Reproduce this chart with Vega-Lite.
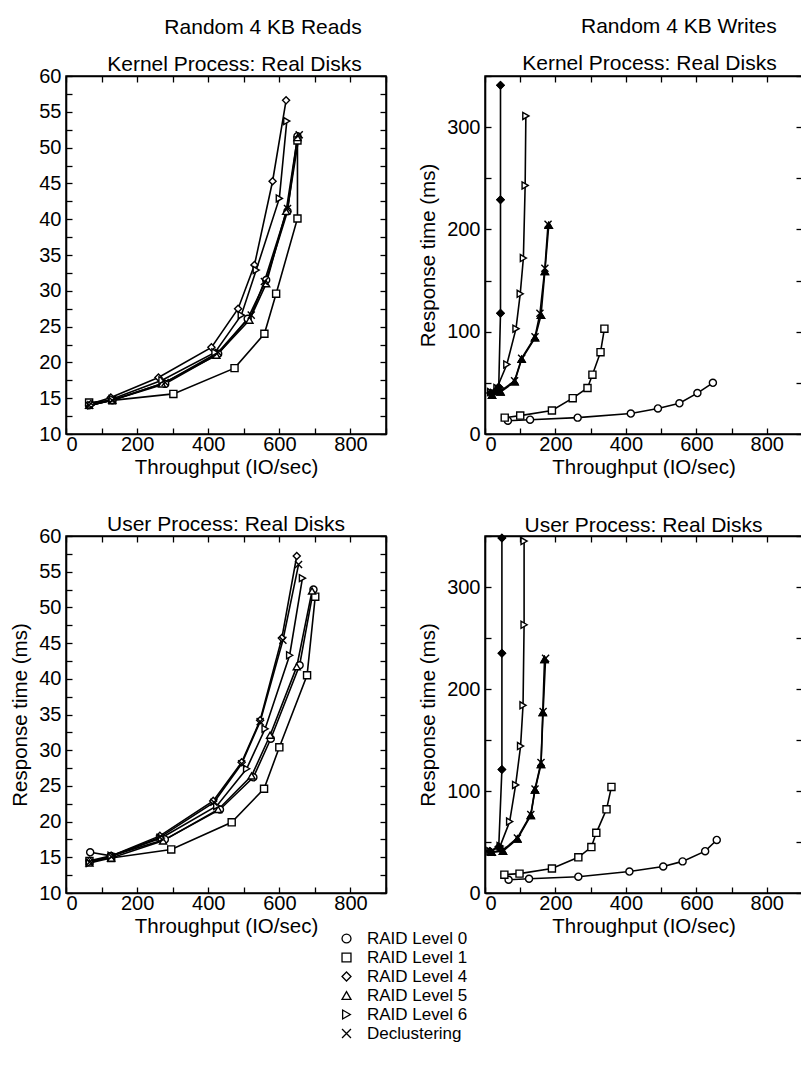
{
  "$schema": "https://vega.github.io/schema/vega-lite/v6.json",
  "padding": {"left": 10, "top": 15, "right": 0, "bottom": 0},
  "background": "white",
  "datasets": {
    "d": [
      {"p":"KR","s":"RAID Level 0","i":1,"x":65,"y":14.0},{"p":"KR","s":"RAID Level 0","i":2,"x":130,"y":14.7},{"p":"KR","s":"RAID Level 0","i":3,"x":279,"y":17.0},{"p":"KR","s":"RAID Level 0","i":4,"x":428,"y":21.2},{"p":"KR","s":"RAID Level 0","i":5,"x":511,"y":26.1},{"p":"KR","s":"RAID Level 0","i":6,"x":563,"y":31.5},{"p":"KR","s":"RAID Level 0","i":7,"x":623,"y":41.1},{"p":"KR","s":"RAID Level 0","i":8,"x":651,"y":51.6},
      {"p":"KR","s":"RAID Level 1","i":1,"x":65,"y":14.4},{"p":"KR","s":"RAID Level 1","i":2,"x":130,"y":14.7},{"p":"KR","s":"RAID Level 1","i":3,"x":302,"y":15.6},{"p":"KR","s":"RAID Level 1","i":4,"x":474,"y":19.2},{"p":"KR","s":"RAID Level 1","i":5,"x":558,"y":24.0},{"p":"KR","s":"RAID Level 1","i":6,"x":591,"y":29.6},{"p":"KR","s":"RAID Level 1","i":7,"x":651,"y":40.1},{"p":"KR","s":"RAID Level 1","i":8,"x":651,"y":51.0},
      {"p":"KR","s":"RAID Level 4","i":1,"x":70,"y":14.2},{"p":"KR","s":"RAID Level 4","i":2,"x":126,"y":15.1},{"p":"KR","s":"RAID Level 4","i":3,"x":260,"y":17.9},{"p":"KR","s":"RAID Level 4","i":4,"x":409,"y":22.1},{"p":"KR","s":"RAID Level 4","i":5,"x":484,"y":27.5},{"p":"KR","s":"RAID Level 4","i":6,"x":530,"y":33.6},{"p":"KR","s":"RAID Level 4","i":7,"x":581,"y":45.3},{"p":"KR","s":"RAID Level 4","i":8,"x":619,"y":56.6},
      {"p":"KR","s":"RAID Level 5","i":1,"x":65,"y":14.0},{"p":"KR","s":"RAID Level 5","i":2,"x":130,"y":14.7},{"p":"KR","s":"RAID Level 5","i":3,"x":270,"y":17.0},{"p":"KR","s":"RAID Level 5","i":4,"x":423,"y":21.0},{"p":"KR","s":"RAID Level 5","i":5,"x":516,"y":25.9},{"p":"KR","s":"RAID Level 5","i":6,"x":563,"y":31.0},{"p":"KR","s":"RAID Level 5","i":7,"x":619,"y":41.1},{"p":"KR","s":"RAID Level 5","i":8,"x":651,"y":51.4},
      {"p":"KR","s":"RAID Level 6","i":1,"x":70,"y":14.0},{"p":"KR","s":"RAID Level 6","i":2,"x":130,"y":14.9},{"p":"KR","s":"RAID Level 6","i":3,"x":270,"y":17.5},{"p":"KR","s":"RAID Level 6","i":4,"x":419,"y":21.4},{"p":"KR","s":"RAID Level 6","i":5,"x":493,"y":26.6},{"p":"KR","s":"RAID Level 6","i":6,"x":535,"y":32.9},{"p":"KR","s":"RAID Level 6","i":7,"x":600,"y":42.9},{"p":"KR","s":"RAID Level 6","i":8,"x":621,"y":53.7},
      {"p":"KR","s":"Declustering","i":1,"x":65,"y":14.0},{"p":"KR","s":"Declustering","i":2,"x":130,"y":14.7},{"p":"KR","s":"Declustering","i":3,"x":279,"y":17.2},{"p":"KR","s":"Declustering","i":4,"x":428,"y":21.4},{"p":"KR","s":"Declustering","i":5,"x":521,"y":26.6},{"p":"KR","s":"Declustering","i":6,"x":558,"y":31.3},{"p":"KR","s":"Declustering","i":7,"x":623,"y":41.5},{"p":"KR","s":"Declustering","i":8,"x":656,"y":51.8},

      {"p":"KW","s":"RAID Level 0","i":1,"x":65,"y":13},{"p":"KW","s":"RAID Level 0","i":2,"x":128,"y":14},{"p":"KW","s":"RAID Level 0","i":3,"x":263,"y":16},{"p":"KW","s":"RAID Level 0","i":4,"x":414,"y":20},{"p":"KW","s":"RAID Level 0","i":5,"x":491,"y":25},{"p":"KW","s":"RAID Level 0","i":6,"x":552,"y":30},{"p":"KW","s":"RAID Level 0","i":7,"x":603,"y":40},{"p":"KW","s":"RAID Level 0","i":8,"x":647,"y":50},
      {"p":"KW","s":"RAID Level 1","i":1,"x":56,"y":16},{"p":"KW","s":"RAID Level 1","i":2,"x":100,"y":18},{"p":"KW","s":"RAID Level 1","i":3,"x":190,"y":23},{"p":"KW","s":"RAID Level 1","i":4,"x":249,"y":35},{"p":"KW","s":"RAID Level 1","i":5,"x":291,"y":45},{"p":"KW","s":"RAID Level 1","i":6,"x":305,"y":58},{"p":"KW","s":"RAID Level 1","i":7,"x":328,"y":80},{"p":"KW","s":"RAID Level 1","i":8,"x":339,"y":103},
      {"p":"KW","s":"RAID Level 4","i":1,"x":16,"y":40},{"p":"KW","s":"RAID Level 4","i":2,"x":30,"y":42},{"p":"KW","s":"RAID Level 4","i":3,"x":39,"y":46},{"p":"KW","s":"RAID Level 4","i":4,"x":44,"y":118},{"p":"KW","s":"RAID Level 4","i":5,"x":44,"y":229},{"p":"KW","s":"RAID Level 4","i":6,"x":44,"y":341},
      {"p":"KW","s":"RAID Level 5","i":1,"x":20,"y":38},{"p":"KW","s":"RAID Level 5","i":2,"x":44,"y":41},{"p":"KW","s":"RAID Level 5","i":3,"x":84,"y":51},{"p":"KW","s":"RAID Level 5","i":4,"x":104,"y":73},{"p":"KW","s":"RAID Level 5","i":5,"x":142,"y":94},{"p":"KW","s":"RAID Level 5","i":6,"x":159,"y":116},{"p":"KW","s":"RAID Level 5","i":7,"x":170,"y":159},{"p":"KW","s":"RAID Level 5","i":8,"x":181,"y":204},
      {"p":"KW","s":"RAID Level 6","i":1,"x":16,"y":41},{"p":"KW","s":"RAID Level 6","i":2,"x":34,"y":45},{"p":"KW","s":"RAID Level 6","i":3,"x":62,"y":68},{"p":"KW","s":"RAID Level 6","i":4,"x":88,"y":103},{"p":"KW","s":"RAID Level 6","i":5,"x":100,"y":137},{"p":"KW","s":"RAID Level 6","i":6,"x":109,"y":172},{"p":"KW","s":"RAID Level 6","i":7,"x":114,"y":243},{"p":"KW","s":"RAID Level 6","i":8,"x":116,"y":311},
      {"p":"KW","s":"Declustering","i":1,"x":20,"y":39},{"p":"KW","s":"Declustering","i":2,"x":44,"y":42},{"p":"KW","s":"Declustering","i":3,"x":84,"y":52},{"p":"KW","s":"Declustering","i":4,"x":104,"y":74},{"p":"KW","s":"Declustering","i":5,"x":142,"y":95},{"p":"KW","s":"Declustering","i":6,"x":156,"y":118},{"p":"KW","s":"Declustering","i":7,"x":170,"y":162},{"p":"KW","s":"Declustering","i":8,"x":179,"y":205},

      {"p":"UR","s":"RAID Level 0","i":1,"x":68,"y":15.7},{"p":"UR","s":"RAID Level 0","i":2,"x":127,"y":15.2},{"p":"UR","s":"RAID Level 0","i":3,"x":278,"y":17.5},{"p":"UR","s":"RAID Level 0","i":4,"x":433,"y":21.7},{"p":"UR","s":"RAID Level 0","i":5,"x":527,"y":26.2},{"p":"UR","s":"RAID Level 0","i":6,"x":576,"y":31.6},{"p":"UR","s":"RAID Level 0","i":7,"x":657,"y":41.9},{"p":"UR","s":"RAID Level 0","i":8,"x":696,"y":52.5},
      {"p":"UR","s":"RAID Level 1","i":1,"x":66,"y":14.5},{"p":"UR","s":"RAID Level 1","i":2,"x":127,"y":14.9},{"p":"UR","s":"RAID Level 1","i":3,"x":296,"y":16.1},{"p":"UR","s":"RAID Level 1","i":4,"x":466,"y":19.9},{"p":"UR","s":"RAID Level 1","i":5,"x":557,"y":24.6},{"p":"UR","s":"RAID Level 1","i":6,"x":600,"y":30.4},{"p":"UR","s":"RAID Level 1","i":7,"x":678,"y":40.5},{"p":"UR","s":"RAID Level 1","i":8,"x":701,"y":51.5},
      {"p":"UR","s":"RAID Level 4","i":1,"x":66,"y":14.5},{"p":"UR","s":"RAID Level 4","i":2,"x":127,"y":15.2},{"p":"UR","s":"RAID Level 4","i":3,"x":264,"y":18.0},{"p":"UR","s":"RAID Level 4","i":4,"x":414,"y":22.9},{"p":"UR","s":"RAID Level 4","i":5,"x":494,"y":28.3},{"p":"UR","s":"RAID Level 4","i":6,"x":546,"y":34.2},{"p":"UR","s":"RAID Level 4","i":7,"x":607,"y":45.7},{"p":"UR","s":"RAID Level 4","i":8,"x":649,"y":57.2},
      {"p":"UR","s":"RAID Level 5","i":1,"x":66,"y":14.2},{"p":"UR","s":"RAID Level 5","i":2,"x":127,"y":14.9},{"p":"UR","s":"RAID Level 5","i":3,"x":273,"y":17.3},{"p":"UR","s":"RAID Level 5","i":4,"x":428,"y":21.7},{"p":"UR","s":"RAID Level 5","i":5,"x":522,"y":26.4},{"p":"UR","s":"RAID Level 5","i":6,"x":574,"y":32.1},{"p":"UR","s":"RAID Level 5","i":7,"x":649,"y":41.7},{"p":"UR","s":"RAID Level 5","i":8,"x":692,"y":52.3},
      {"p":"UR","s":"RAID Level 6","i":1,"x":66,"y":14.2},{"p":"UR","s":"RAID Level 6","i":2,"x":127,"y":15.2},{"p":"UR","s":"RAID Level 6","i":3,"x":268,"y":17.7},{"p":"UR","s":"RAID Level 6","i":4,"x":424,"y":22.2},{"p":"UR","s":"RAID Level 6","i":5,"x":508,"y":27.4},{"p":"UR","s":"RAID Level 6","i":6,"x":560,"y":33.0},{"p":"UR","s":"RAID Level 6","i":7,"x":629,"y":43.3},{"p":"UR","s":"RAID Level 6","i":8,"x":665,"y":54.1},
      {"p":"UR","s":"Declustering","i":1,"x":66,"y":14.3},{"p":"UR","s":"Declustering","i":2,"x":127,"y":15.1},{"p":"UR","s":"Declustering","i":3,"x":264,"y":17.8},{"p":"UR","s":"Declustering","i":4,"x":416,"y":22.7},{"p":"UR","s":"Declustering","i":5,"x":494,"y":28.1},{"p":"UR","s":"Declustering","i":6,"x":546,"y":34.0},{"p":"UR","s":"Declustering","i":7,"x":610,"y":45.4},{"p":"UR","s":"Declustering","i":8,"x":654,"y":56.0},

      {"p":"UW","s":"RAID Level 0","i":1,"x":67,"y":13},{"p":"UW","s":"RAID Level 0","i":2,"x":125,"y":14},{"p":"UW","s":"RAID Level 0","i":3,"x":265,"y":16},{"p":"UW","s":"RAID Level 0","i":4,"x":410,"y":21},{"p":"UW","s":"RAID Level 0","i":5,"x":506,"y":26},{"p":"UW","s":"RAID Level 0","i":6,"x":561,"y":31},{"p":"UW","s":"RAID Level 0","i":7,"x":625,"y":41},{"p":"UW","s":"RAID Level 0","i":8,"x":658,"y":52},
      {"p":"UW","s":"RAID Level 1","i":1,"x":55,"y":18},{"p":"UW","s":"RAID Level 1","i":2,"x":98,"y":19},{"p":"UW","s":"RAID Level 1","i":3,"x":190,"y":24},{"p":"UW","s":"RAID Level 1","i":4,"x":265,"y":35},{"p":"UW","s":"RAID Level 1","i":5,"x":302,"y":45},{"p":"UW","s":"RAID Level 1","i":6,"x":316,"y":59},{"p":"UW","s":"RAID Level 1","i":7,"x":345,"y":82},{"p":"UW","s":"RAID Level 1","i":8,"x":359,"y":104},
      {"p":"UW","s":"RAID Level 4","i":1,"x":14,"y":41},{"p":"UW","s":"RAID Level 4","i":2,"x":39,"y":45},{"p":"UW","s":"RAID Level 4","i":3,"x":48,"y":121},{"p":"UW","s":"RAID Level 4","i":4,"x":48,"y":235},{"p":"UW","s":"RAID Level 4","i":5,"x":48,"y":348},
      {"p":"UW","s":"RAID Level 5","i":1,"x":19,"y":40},{"p":"UW","s":"RAID Level 5","i":2,"x":51,"y":41},{"p":"UW","s":"RAID Level 5","i":3,"x":92,"y":53},{"p":"UW","s":"RAID Level 5","i":4,"x":130,"y":76},{"p":"UW","s":"RAID Level 5","i":5,"x":142,"y":101},{"p":"UW","s":"RAID Level 5","i":6,"x":159,"y":126},{"p":"UW","s":"RAID Level 5","i":7,"x":164,"y":177},{"p":"UW","s":"RAID Level 5","i":8,"x":169,"y":229},
      {"p":"UW","s":"RAID Level 6","i":1,"x":14,"y":41},{"p":"UW","s":"RAID Level 6","i":2,"x":43,"y":46},{"p":"UW","s":"RAID Level 6","i":3,"x":70,"y":70},{"p":"UW","s":"RAID Level 6","i":4,"x":87,"y":106},{"p":"UW","s":"RAID Level 6","i":5,"x":101,"y":144},{"p":"UW","s":"RAID Level 6","i":6,"x":108,"y":184},{"p":"UW","s":"RAID Level 6","i":7,"x":111,"y":263},{"p":"UW","s":"RAID Level 6","i":8,"x":111,"y":345},
      {"p":"UW","s":"Declustering","i":1,"x":19,"y":40},{"p":"UW","s":"Declustering","i":2,"x":51,"y":42},{"p":"UW","s":"Declustering","i":3,"x":92,"y":54},{"p":"UW","s":"Declustering","i":4,"x":130,"y":77},{"p":"UW","s":"Declustering","i":5,"x":142,"y":102},{"p":"UW","s":"Declustering","i":6,"x":159,"y":128},{"p":"UW","s":"Declustering","i":7,"x":165,"y":178},{"p":"UW","s":"Declustering","i":8,"x":172,"y":230}
    ]
  },
  "data": {"name": "d"},
  "columns": 2,
  "bounds": "flush",
  "spacing": {"column": 99, "row": 102},
  "resolve": {"scale": {"shape": "shared"}, "legend": {"shape": "shared"}},
  "concat": [
    {
      "title": {"text": ["Random 4 KB Reads", "Kernel Process: Real Disks"], "anchor": "end", "dx": -25, "offset": -9},
      "width": 320, "height": 358,
      "transform": [{"filter": "datum.p === 'KR'"}],
      "layer": [
        {"mark": {"type": "line", "color": "black", "strokeWidth": 1.6},
         "encoding": {
           "x": {"field": "x", "type": "quantitative", "scale": {"domain": [0, 900], "nice": false, "zero": false}, "axis": {"orient": "bottom", "ticks": false, "title": "Throughput (IO/sec)", "values": [0,200,400,600,800]}},
           "y": {"field": "y", "type": "quantitative", "scale": {"domain": [10, 60], "nice": false, "zero": false}, "axis": {"orient": "left", "ticks": false, "title": null, "values": [10,15,20,25,30,35,40,45,50,55,60]}},
           "detail": {"field": "s", "type": "nominal"},
           "order": {"field": "i", "type": "quantitative"}}},
        {"mark": {"type": "point", "filled": false, "fill": "white", "stroke": "black", "strokeWidth": 1.4, "size": 50, "opacity": 1},
         "encoding": {
           "x": {"field": "x", "type": "quantitative", "axis": null},
           "y": {"field": "y", "type": "quantitative", "axis": null},
           "shape": {"field": "s", "type": "nominal", "scale": {"domain": ["RAID Level 0","RAID Level 1","RAID Level 4","RAID Level 5","RAID Level 6","Declustering"], "range": ["circle","square","diamond","triangle-up","triangle-right","M-1,-1L1,1M-1,1L1,-1"]},
             "legend": {"orient": "none", "legendX": 272, "legendY": 854, "title": null, "encoding": {"symbols": {"fill": {"value": "white"}, "stroke": {"value": "black"}, "strokeWidth": {"value": 1.3}}}}}}},
        {"mark": {"type": "point", "opacity": 0},
         "encoding": {
           "x": {"field": "x", "type": "quantitative", "axis": {"orient": "top", "ticks": false, "labels": false, "title": null}},
           "y": {"field": "y", "type": "quantitative", "axis": {"orient": "right", "ticks": false, "labels": false, "title": null}}}},
        {"mark": {"type": "point", "opacity": 0},
         "encoding": {
           "x": {"field": "x", "type": "quantitative", "axis": {"orient": "bottom", "offset": -6, "domain": false, "labels": false, "title": null, "values": [0,100,200,300,400,500,600,700,800,900]}},
           "y": {"field": "y", "type": "quantitative", "axis": {"orient": "left", "offset": -6, "domain": false, "labels": false, "title": null, "values": [10,12.5,15,17.5,20,22.5,25,27.5,30,32.5,35,37.5,40,42.5,45,47.5,50,52.5,55,57.5,60]}}}},
        {"mark": {"type": "point", "opacity": 0},
         "encoding": {
           "x": {"field": "x", "type": "quantitative", "axis": {"orient": "top", "offset": -6, "domain": false, "labels": false, "title": null, "values": [0,100,200,300,400,500,600,700,800,900]}},
           "y": {"field": "y", "type": "quantitative", "axis": {"orient": "right", "offset": -6, "domain": false, "labels": false, "title": null, "values": [10,12.5,15,17.5,20,22.5,25,27.5,30,32.5,35,37.5,40,42.5,45,47.5,50,52.5,55,57.5,60]}}}}
      ],
      "resolve": {"axis": {"x": "independent", "y": "independent"}}
    },
    {
      "title": {"text": ["Random 4 KB Writes", "Kernel Process: Real Disks"], "anchor": "end", "dx": -26, "offset": 1},
      "width": 317, "height": 358,
      "transform": [{"filter": "datum.p === 'KW'"}],
      "layer": [
        {"mark": {"type": "line", "color": "black", "strokeWidth": 1.6},
         "encoding": {
           "x": {"field": "x", "type": "quantitative", "scale": {"domain": [0, 900], "nice": false, "zero": false}, "axis": {"orient": "bottom", "ticks": false, "title": "Throughput (IO/sec)", "values": [0,200,400,600,800]}},
           "y": {"field": "y", "type": "quantitative", "scale": {"domain": [0, 350], "nice": false, "zero": false}, "axis": {"orient": "left", "ticks": false, "title": "Response time (ms)", "values": [0,100,200,300]}},
           "detail": {"field": "s", "type": "nominal"},
           "order": {"field": "i", "type": "quantitative"}}},
        {"mark": {"type": "point", "filled": false, "fill": "white", "stroke": "black", "strokeWidth": 1.4, "size": 50, "opacity": 1},
         "encoding": {
           "x": {"field": "x", "type": "quantitative", "axis": null},
           "y": {"field": "y", "type": "quantitative", "axis": null},
           "shape": {"field": "s", "type": "nominal", "scale": {"domain": ["RAID Level 0","RAID Level 1","RAID Level 4","RAID Level 5","RAID Level 6","Declustering"], "range": ["circle","square","diamond","triangle-up","triangle-right","M-1,-1L1,1M-1,1L1,-1"]},
             "legend": {"orient": "none", "legendX": 272, "legendY": 854, "title": null, "encoding": {"symbols": {"fill": {"value": "white"}, "stroke": {"value": "black"}, "strokeWidth": {"value": 1.3}}}}}}},
        {"transform": [{"filter": "datum.s === 'RAID Level 4'"}], "mark": {"type": "point", "shape": "diamond", "filled": true, "fill": "black", "stroke": "black", "strokeWidth": 1.4, "size": 50, "opacity": 1}, "encoding": {"x": {"field": "x", "type": "quantitative", "axis": null}, "y": {"field": "y", "type": "quantitative", "axis": null}}},
        {"transform": [{"filter": "datum.s === 'RAID Level 5'"}], "mark": {"type": "point", "shape": "triangle-up", "filled": true, "fill": "black", "stroke": "black", "strokeWidth": 1.4, "size": 50, "opacity": 1}, "encoding": {"x": {"field": "x", "type": "quantitative", "axis": null}, "y": {"field": "y", "type": "quantitative", "axis": null}}},
        {"mark": {"type": "point", "opacity": 0},
         "encoding": {
           "x": {"field": "x", "type": "quantitative", "axis": {"orient": "top", "ticks": false, "labels": false, "title": null}},
           "y": {"field": "y", "type": "quantitative", "axis": {"orient": "right", "ticks": false, "labels": false, "title": null}}}},
        {"mark": {"type": "point", "opacity": 0},
         "encoding": {
           "x": {"field": "x", "type": "quantitative", "axis": {"orient": "bottom", "offset": -6, "domain": false, "labels": false, "title": null, "values": [0,100,200,300,400,500,600,700,800,900]}},
           "y": {"field": "y", "type": "quantitative", "axis": {"orient": "left", "offset": -6, "domain": false, "labels": false, "title": null, "values": [0,50,100,150,200,250,300,350]}}}},
        {"mark": {"type": "point", "opacity": 0},
         "encoding": {
           "x": {"field": "x", "type": "quantitative", "axis": {"orient": "top", "offset": -6, "domain": false, "labels": false, "title": null, "values": [0,100,200,300,400,500,600,700,800,900]}},
           "y": {"field": "y", "type": "quantitative", "axis": {"orient": "right", "offset": -6, "domain": false, "labels": false, "title": null, "values": [0,50,100,150,200,250,300,350]}}}}
      ],
      "resolve": {"axis": {"x": "independent", "y": "independent"}}
    },
    {
      "title": {"text": "User Process: Real Disks", "anchor": "middle", "offset": -9},
      "width": 320, "height": 357,
      "transform": [{"filter": "datum.p === 'UR'"}],
      "layer": [
        {"mark": {"type": "line", "color": "black", "strokeWidth": 1.6},
         "encoding": {
           "x": {"field": "x", "type": "quantitative", "scale": {"domain": [0, 900], "nice": false, "zero": false}, "axis": {"orient": "bottom", "ticks": false, "title": "Throughput (IO/sec)", "values": [0,200,400,600,800]}},
           "y": {"field": "y", "type": "quantitative", "scale": {"domain": [10, 60], "nice": false, "zero": false}, "axis": {"orient": "left", "ticks": false, "title": "Response time (ms)", "values": [10,15,20,25,30,35,40,45,50,55,60]}},
           "detail": {"field": "s", "type": "nominal"},
           "order": {"field": "i", "type": "quantitative"}}},
        {"mark": {"type": "point", "filled": false, "fill": "white", "stroke": "black", "strokeWidth": 1.4, "size": 50, "opacity": 1},
         "encoding": {
           "x": {"field": "x", "type": "quantitative", "axis": null},
           "y": {"field": "y", "type": "quantitative", "axis": null},
           "shape": {"field": "s", "type": "nominal", "scale": {"domain": ["RAID Level 0","RAID Level 1","RAID Level 4","RAID Level 5","RAID Level 6","Declustering"], "range": ["circle","square","diamond","triangle-up","triangle-right","M-1,-1L1,1M-1,1L1,-1"]},
             "legend": {"orient": "none", "legendX": 272, "legendY": 854, "title": null, "encoding": {"symbols": {"fill": {"value": "white"}, "stroke": {"value": "black"}, "strokeWidth": {"value": 1.3}}}}}}},
        {"mark": {"type": "point", "opacity": 0},
         "encoding": {
           "x": {"field": "x", "type": "quantitative", "axis": {"orient": "top", "ticks": false, "labels": false, "title": null}},
           "y": {"field": "y", "type": "quantitative", "axis": {"orient": "right", "ticks": false, "labels": false, "title": null}}}},
        {"mark": {"type": "point", "opacity": 0},
         "encoding": {
           "x": {"field": "x", "type": "quantitative", "axis": {"orient": "bottom", "offset": -6, "domain": false, "labels": false, "title": null, "values": [0,100,200,300,400,500,600,700,800,900]}},
           "y": {"field": "y", "type": "quantitative", "axis": {"orient": "left", "offset": -6, "domain": false, "labels": false, "title": null, "values": [10,12.5,15,17.5,20,22.5,25,27.5,30,32.5,35,37.5,40,42.5,45,47.5,50,52.5,55,57.5,60]}}}},
        {"mark": {"type": "point", "opacity": 0},
         "encoding": {
           "x": {"field": "x", "type": "quantitative", "axis": {"orient": "top", "offset": -6, "domain": false, "labels": false, "title": null, "values": [0,100,200,300,400,500,600,700,800,900]}},
           "y": {"field": "y", "type": "quantitative", "axis": {"orient": "right", "offset": -6, "domain": false, "labels": false, "title": null, "values": [10,12.5,15,17.5,20,22.5,25,27.5,30,32.5,35,37.5,40,42.5,45,47.5,50,52.5,55,57.5,60]}}}}
      ],
      "resolve": {"axis": {"x": "independent", "y": "independent"}}
    },
    {
      "title": {"text": "User Process: Real Disks", "anchor": "middle", "offset": -4},
      "width": 317, "height": 357,
      "transform": [{"filter": "datum.p === 'UW'"}],
      "layer": [
        {"mark": {"type": "line", "color": "black", "strokeWidth": 1.6},
         "encoding": {
           "x": {"field": "x", "type": "quantitative", "scale": {"domain": [0, 900], "nice": false, "zero": false}, "axis": {"orient": "bottom", "ticks": false, "title": "Throughput (IO/sec)", "values": [0,200,400,600,800]}},
           "y": {"field": "y", "type": "quantitative", "scale": {"domain": [0, 350], "nice": false, "zero": false}, "axis": {"orient": "left", "ticks": false, "title": "Response time (ms)", "values": [0,100,200,300]}},
           "detail": {"field": "s", "type": "nominal"},
           "order": {"field": "i", "type": "quantitative"}}},
        {"mark": {"type": "point", "filled": false, "fill": "white", "stroke": "black", "strokeWidth": 1.4, "size": 50, "opacity": 1},
         "encoding": {
           "x": {"field": "x", "type": "quantitative", "axis": null},
           "y": {"field": "y", "type": "quantitative", "axis": null},
           "shape": {"field": "s", "type": "nominal", "scale": {"domain": ["RAID Level 0","RAID Level 1","RAID Level 4","RAID Level 5","RAID Level 6","Declustering"], "range": ["circle","square","diamond","triangle-up","triangle-right","M-1,-1L1,1M-1,1L1,-1"]},
             "legend": {"orient": "none", "legendX": 272, "legendY": 854, "title": null, "encoding": {"symbols": {"fill": {"value": "white"}, "stroke": {"value": "black"}, "strokeWidth": {"value": 1.3}}}}}}},
        {"transform": [{"filter": "datum.s === 'RAID Level 4'"}], "mark": {"type": "point", "shape": "diamond", "filled": true, "fill": "black", "stroke": "black", "strokeWidth": 1.4, "size": 50, "opacity": 1}, "encoding": {"x": {"field": "x", "type": "quantitative", "axis": null}, "y": {"field": "y", "type": "quantitative", "axis": null}}},
        {"transform": [{"filter": "datum.s === 'RAID Level 5'"}], "mark": {"type": "point", "shape": "triangle-up", "filled": true, "fill": "black", "stroke": "black", "strokeWidth": 1.4, "size": 50, "opacity": 1}, "encoding": {"x": {"field": "x", "type": "quantitative", "axis": null}, "y": {"field": "y", "type": "quantitative", "axis": null}}},
        {"mark": {"type": "point", "opacity": 0},
         "encoding": {
           "x": {"field": "x", "type": "quantitative", "axis": {"orient": "top", "ticks": false, "labels": false, "title": null}},
           "y": {"field": "y", "type": "quantitative", "axis": {"orient": "right", "ticks": false, "labels": false, "title": null}}}},
        {"mark": {"type": "point", "opacity": 0},
         "encoding": {
           "x": {"field": "x", "type": "quantitative", "axis": {"orient": "bottom", "offset": -6, "domain": false, "labels": false, "title": null, "values": [0,100,200,300,400,500,600,700,800,900]}},
           "y": {"field": "y", "type": "quantitative", "axis": {"orient": "left", "offset": -6, "domain": false, "labels": false, "title": null, "values": [0,50,100,150,200,250,300,350]}}}},
        {"mark": {"type": "point", "opacity": 0},
         "encoding": {
           "x": {"field": "x", "type": "quantitative", "axis": {"orient": "top", "offset": -6, "domain": false, "labels": false, "title": null, "values": [0,100,200,300,400,500,600,700,800,900]}},
           "y": {"field": "y", "type": "quantitative", "axis": {"orient": "right", "offset": -6, "domain": false, "labels": false, "title": null, "values": [0,50,100,150,200,250,300,350]}}}}
      ],
      "resolve": {"axis": {"x": "independent", "y": "independent"}}
    }
  ],
  "config": {
    "font": "Liberation Sans",
    "view": {"stroke": "black", "strokeWidth": 1.5},
    "axis": {"grid": false, "domain": true, "domainColor": "black", "domainWidth": 1.6, "tickColor": "black", "tickSize": 6, "tickWidth": 1.3, "labelColor": "black", "labelFont": "Liberation Sans", "labelFontSize": 20, "titleFont": "Liberation Sans", "titleFontSize": 20.5, "titleFontWeight": "normal", "titleColor": "black", "labelPadding": 5, "titlePadding": 8},
    "axisX": {"labelPadding": 0, "titlePadding": 3},
    "title": {"font": "Liberation Sans", "fontSize": 21, "fontWeight": "normal", "color": "black", "lineHeight": 37},
    "legend": {"labelFont": "Liberation Sans", "labelFontSize": 17, "labelColor": "black", "symbolSize": 80, "labelOffset": 12, "rowPadding": 1, "symbolStrokeWidth": 1.3, "symbolStrokeColor": "black", "symbolFillColor": "white"}
  }
}
